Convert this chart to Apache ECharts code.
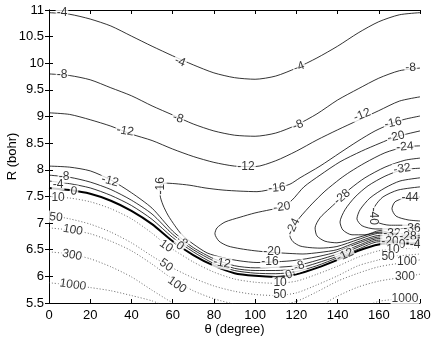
<!DOCTYPE html>
<html>
<head>
<meta charset="UTF-8">
<title>contour</title>
<script src="https://cdn.jsdelivr.net/npm/echarts@6/dist/echarts.min.js"></script>
<style>html,body{margin:0;padding:0;background:#fff;}</style>
</head>
<body>
<div id="main" style="width:436px;height:338px;"></div>
<script>
// contour lines, [theta (degree), R (bohr)]
var cM4 = [[0,10.95],[10,10.92],[20,10.83],[30,10.70],[40,10.51],[50,10.32],[60,10.14],[70,9.97],[80,9.82],[90,9.73],[100,9.70],[110,9.76],[120,9.91],[130,10.10],[140,10.32],[150,10.57],[160,10.78],[170,10.91],[180,10.95]];
var cM8 = [[0,9.80],[10,9.77],[20,9.69],[30,9.54],[40,9.39],[50,9.20],[60,9.03],[70,8.86],[80,8.73],[90,8.65],[100,8.63],[110,8.69],[120,8.84],[130,9.05],[140,9.31],[150,9.52],[160,9.72],[170,9.86],[180,9.91]];
var cM12a = [[0,9.07],[10,9.04],[20,8.94],[30,8.82],[40,8.67],[50,8.55],[60,8.39],[70,8.25],[80,8.14],[90,8.07],[100,8.06],[110,8.17],[120,8.35],[130,8.56],[140,8.75],[150,8.93],[160,9.11],[170,9.29],[180,9.37]];
var cM12b = [[0,8.07],[10,8.05],[20,7.98],[30,7.81],[40,7.57],[50,7.28],[60,6.85],[70,6.54],[80,6.33],[90,6.20],[100,6.16],[110,6.17],[120,6.20],[130,6.30],[140,6.42],[150,6.58],[160,6.71],[170,6.68],[180,6.66]];
var cM8b = [[0,7.90],[10,7.86],[20,7.77],[30,7.63],[40,7.43],[50,7.17],[60,6.79],[70,6.50],[80,6.29],[90,6.15],[100,6.11],[110,6.11],[120,6.14],[130,6.25],[140,6.38],[150,6.55],[160,6.68],[170,6.66],[180,6.64]];
var cM4b = [[0,7.79],[10,7.74],[20,7.66],[30,7.52],[40,7.33],[50,7.07],[60,6.73],[70,6.46],[80,6.24],[90,6.11],[100,6.06],[110,6.05],[120,6.09],[130,6.20],[140,6.35],[150,6.51],[160,6.65],[170,6.65],[180,6.63]];
var c0 = [[0,7.66],[10,7.62],[20,7.55],[30,7.42],[40,7.23],[50,6.98],[60,6.66],[70,6.40],[80,6.20],[90,6.06],[100,6.01],[110,5.99],[120,6.04],[130,6.16],[140,6.31],[150,6.48],[160,6.60],[170,6.62],[180,6.61]];
var cM16 = [[180,9.01],[172.7,8.95],[166.9,8.88],[158.2,8.73],[149.9,8.54],[141.2,8.32],[131.5,8.07],[121.8,7.85],[116.9,7.73],[110.6,7.66],[100.9,7.59],[92.7,7.60],[84.4,7.62],[75.7,7.66],[68.4,7.71],[61.1,7.74],[56.3,7.75],[53.9,7.70],[53.9,7.53],[55.3,7.34],[57.7,7.15],[61.1,6.95],[64.5,6.78],[69.9,6.61],[76.7,6.44],[84.4,6.35],[92.7,6.29],[100.9,6.26],[108.7,6.27],[116.9,6.29],[123.2,6.32],[131.5,6.38],[139.7,6.46],[149.9,6.62],[160.6,6.74],[170.3,6.71],[180,6.67]];
var cM20 = [[180,8.73],[168.4,8.62],[160.6,8.50],[151.6,8.35],[141.2,8.15],[131.5,7.90],[123.7,7.68],[117.9,7.43],[113.0,7.30],[107.2,7.25],[99.9,7.19],[92.7,7.11],[85.4,7.02],[81.5,6.91],[80.5,6.80],[82.5,6.66],[86.8,6.57],[92.7,6.52],[99.9,6.48],[108.2,6.45],[116.9,6.43],[123.2,6.42],[131.5,6.45],[139.7,6.50],[149.9,6.65],[160.6,6.77],[170.3,6.74],[180,6.70]];
var cM24 = [[180,8.45],[172.7,8.43],[163.0,8.32],[153.3,8.13],[146.0,7.96],[141.2,7.83],[133.9,7.60],[127.6,7.36],[121.8,7.11],[118.4,6.93],[116.9,6.76],[118.4,6.65],[121.8,6.57],[126.6,6.54],[131.5,6.53],[139.7,6.56],[149.9,6.69],[160.6,6.81],[170.3,6.77],[180,6.73]];
var cM28 = [[180,8.22],[172.7,8.18],[163.0,8.05],[153.3,7.85],[146.0,7.64],[142.2,7.49],[136.3,7.28],[131.5,7.10],[129.1,6.91],[130.0,6.76],[133.9,6.66],[139.7,6.63],[149.9,6.73],[160.6,6.83],[170.3,6.80],[180,6.76]];
var cM32 = [[180,8.03],[171.3,8.00],[163.0,7.88],[154.8,7.70],[148.5,7.49],[143.6,7.25],[141.2,7.02],[142.6,6.87],[147.0,6.78],[153.3,6.78],[160.6,6.86],[166.4,6.81],[180,6.80]];
var cM36 = [[180,7.85],[170.3,7.79],[163.0,7.66],[155.7,7.47],[150.9,7.25],[149.4,7.08],[151.9,6.95],[158.2,6.89],[167.9,6.89],[176.1,6.91],[180,6.91]];
var cM40 = [[180,7.68],[169.3,7.62],[162.0,7.49],[158.2,7.32],[157.2,7.15],[159.1,7.02],[165.4,6.96],[180,6.96]];
var cM44 = [[180,7.49],[172.7,7.47],[167.9,7.40],[166.4,7.27],[168.4,7.13],[174.2,7.06],[180,7.04]];
var p10 = [[0,7.49],[10,7.47],[20,7.40],[30,7.27],[40,7.08],[50,6.81],[56.8,6.59],[60,6.51],[70,6.27],[80,6.08],[90,5.95],[100,5.89],[110,5.87],[120,5.91],[130,6.04],[140,6.19],[150,6.36],[160,6.48],[166.9,6.51],[180,6.53]];
var p50 = [[0,7.15],[10,7.08],[20,6.98],[30,6.83],[40,6.63],[50,6.38],[57.3,6.21],[70,5.97],[80,5.82],[90,5.72],[100,5.66],[110,5.64],[120,5.69],[130,5.84],[140,6.01],[150,6.20],[160,6.31],[164.5,6.36],[180,6.42]];
var p100 = [[0,6.91],[10,6.87],[20,6.80],[30,6.66],[40,6.48],[50,6.23],[60,5.95],[70,5.73],[80,5.58],[90,5.48],[100,5.43],[110,5.45],[120,5.53],[130,5.71],[140,5.91],[150,6.06],[160,6.18],[173.7,6.27],[180,6.31]];
var p300a = [[0,6.46],[10,6.42],[20,6.33],[30,6.18],[40,5.99],[50,5.74],[60,5.50],[65,5.39]];
var p300b = [[126.6,5.22],[134.4,5.50],[140,5.63],[150,5.80],[160,5.91],[172.7,5.99],[180,6.04]];
var p1000a = [[0,5.88],[10,5.84],[20,5.79],[30,5.73],[40,5.64],[50,5.54],[56.3,5.44]];
var p1000b = [[151.9,5.41],[160,5.53],[170.3,5.58],[180,5.63]];

// contour labels: text, theta, R, rotation
var labels = [
  ['-4',6.3,10.95,0],['-4',63.6,10.03,-22],['-4',121.3,9.93,20],
  ['-8',6.3,9.78,0],['-8',62.6,8.97,-18],['-8',120.8,8.84,22],['-8',175.5,9.92,3],
  ['-12',36.9,8.73,-10],['-12',95.6,8.06,0],['-12',151.9,9.03,22],
  ['-16',166.9,8.88,12],['-16',110.6,7.66,5],['-16',54.2,7.70,90],
  ['-20',168.4,8.62,12],['-20',113.0,7.30,8],['-20',108.2,6.46,0],
  ['-24',172.7,8.43,5],['-24',118.4,6.93,65],
  ['-28',142.2,7.49,40],
  ['-32',171.3,8.02,8],['-32',166.4,6.80,0],
  ['-36',176.1,6.90,0],['-40',157.2,7.13,-90],['-44',175.2,7.48,0],
  ['-28',174.2,6.75,0],['-20',165.4,6.66,0],['0',171.3,6.59,0],['-4',177.6,6.59,0],
  ['10',166.9,6.51,0],['50',164.5,6.36,0],['100',173.7,6.27,0],['300',172.7,5.99,0],['1000',172.7,5.58,0],
  ['-12',143.6,6.40,25],['0',116.4,6.03,20],['-8',121.3,6.19,20],
  ['-16',107.2,6.27,0],['-12',83.9,6.25,-10],['10',112.1,5.88,0],['50',112.0,5.65,0],
  ['-12',29.6,7.79,-15],['-8',7.3,7.87,0],['-4',4.4,7.73,0],['0',12.1,7.60,-5],
  ['10',4.4,7.47,0],['50',3.4,7.11,-5],['100',11.6,6.87,-10],['300',11.2,6.40,-10],['1000',11.6,5.84,-8],
  ['-8',64.5,6.65,-40],['10',56.8,6.57,-35],['0',63.5,6.57,-35],['50',56.8,6.21,-35],['100',62.1,5.84,-35]
];

var solid = [cM4, cM8, cM12a, cM12b, cM8b, cM4b, cM16, cM20, cM24, cM28, cM32, cM36, cM40, cM44];
var dotted = [p10, p50, p100, p300a, p300b, p1000a, p1000b];

var series = [];
solid.forEach(function (d) {
    series.push({type: 'line', data: d, symbol: 'none', smooth: 0.25,
        lineStyle: {color: '#000', width: 0.8}});
});
series.push({type: 'line', data: c0, symbol: 'none', smooth: 0.25,
    lineStyle: {color: '#000', width: 2}});
dotted.forEach(function (d) {
    series.push({type: 'line', data: d, symbol: 'none', smooth: 0.25,
        lineStyle: {color: '#444', width: 0.8, type: [1, 2]}});
});
series.push({
    type: 'scatter', symbolSize: 1, z: 10,
    itemStyle: {color: 'rgba(0,0,0,0)'},
    data: labels.map(function (l) {
        return {value: [l[1], l[2]], label: {formatter: l[0], rotate: l[3]}};
    }),
    label: {show: true, position: 'inside', color: '#000', fontSize: 12,
        fontFamily: 'Liberation Sans', backgroundColor: '#fff', padding: [0, 1]}
});

var tickFont = {color: '#000', fontSize: 13, fontFamily: 'Liberation Sans'};
var axisLine = {show: true, lineStyle: {color: '#000', width: 1}};
var axisTick = {show: true, inside: true, length: 4, lineStyle: {color: '#000'}};

var myChart = echarts.init(document.getElementById('main'));
myChart.setOption({
    animation: false,
    backgroundColor: '#fff',
    grid: {left: 49, right: 16, top: 10, bottom: 35, outerBoundsMode: 'none'},
    xAxis: [{
        type: 'value', min: 0, max: 180, interval: 20,
        axisLine: axisLine, axisTick: axisTick, splitLine: {show: false},
        axisLabel: Object.assign({margin: 6}, tickFont),
        name: 'θ (degree)', nameLocation: 'middle', nameGap: 20, nameMoveOverlap: false,
        nameTextStyle: tickFont
    }, {
        type: 'value', min: 0, max: 180, interval: 20, position: 'top',
        axisLine: axisLine, axisTick: axisTick, splitLine: {show: false},
        axisLabel: {show: false}
    }],
    yAxis: [{
        type: 'value', min: 5.5, max: 11, interval: 0.5,
        axisLine: axisLine, axisTick: axisTick, splitLine: {show: false},
        axisLabel: Object.assign({margin: 5}, tickFont),
        name: 'R (bohr)', nameLocation: 'middle', nameGap: 30, nameRotate: 90, nameMoveOverlap: false,
        nameTextStyle: tickFont
    }, {
        type: 'value', min: 5.5, max: 11, interval: 0.5, position: 'right',
        axisLine: axisLine, axisTick: axisTick, splitLine: {show: false},
        axisLabel: {show: false}
    }],
    series: series
});
</script>
</body>
</html>
